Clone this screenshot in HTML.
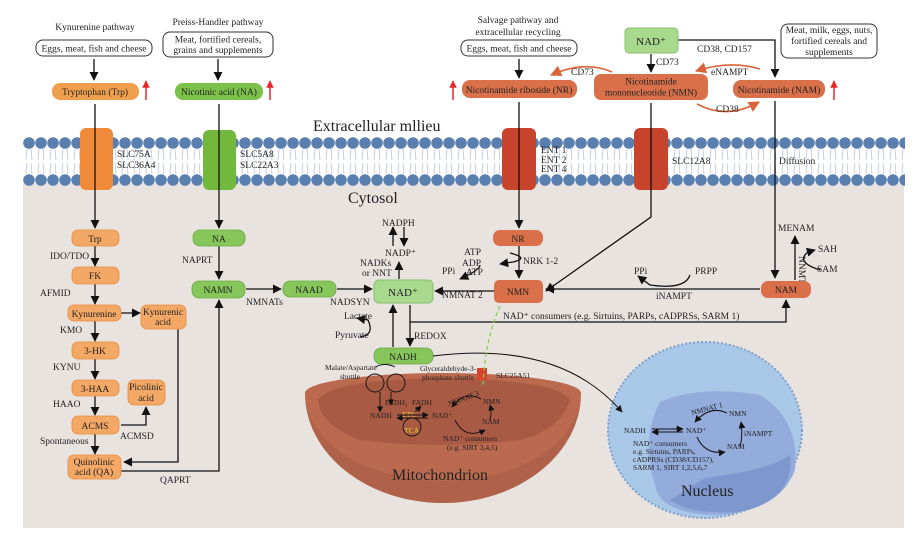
<!DOCTYPE html>
<html><head><meta charset="utf-8"><style>
html,body{margin:0;padding:0;background:#fff}
svg{display:block}
text{font-family:"Liberation Serif",serif;fill:#222}
.s{font-size:9.5px}
.b{font-size:9.5px}
</style></head><body>
<svg width="924" height="537" viewBox="0 0 924 537" xmlns="http://www.w3.org/2000/svg">
<defs>
<marker id="a" viewBox="0 0 10 10" refX="9" refY="5" markerWidth="7" markerHeight="7" orient="auto-start-reverse"><path d="M0,0L10,5L0,10z" fill="#111"/></marker>
<marker id="o" viewBox="0 0 10 10" refX="9" refY="5" markerWidth="7" markerHeight="7" orient="auto"><path d="M0,0L10,5L0,10z" fill="#d9643a"/></marker>
<marker id="r" viewBox="0 0 10 10" refX="9" refY="5" markerWidth="5" markerHeight="6" orient="auto"><path d="M0,0L10,5L0,10z" fill="#e8252a"/></marker>
<pattern id="mem" x="23" y="135" width="12" height="52" patternUnits="userSpaceOnUse">
<path d="M4,14 L3,25 M8,14 L9,25 M4,28 L3,39 M8,28 L9,39" stroke="#b8c4d6" stroke-width="0.8" fill="none"/>
<circle cx="6" cy="8" r="5.8" fill="#5a7fae"/>
<circle cx="6" cy="45" r="5.8" fill="#5a7fae"/>
</pattern>
</defs>
<!-- cytosol -->
<rect x="23" y="183" width="881" height="345" fill="#e9e3e0"/>
<!-- membrane -->
<rect x="23" y="135" width="882" height="52" fill="url(#mem)"/>

<text x="313" y="131" style="font-size:16px">Extracellular mllieu</text>
<text x="348" y="203" style="font-size:16px">Cytosol</text>

<!-- top sources -->
<text class="s" x="95" y="30" text-anchor="middle">Kynurenine pathway</text>
<rect x="36" y="40" width="116" height="16" rx="7" fill="#fff" stroke="#333"/>
<text class="s" x="94" y="51.5" text-anchor="middle">Eggs, meat, fish and cheese</text>
<text class="s" x="218" y="25" text-anchor="middle">Preiss-Handler pathway</text>
<rect x="163" y="32" width="110" height="25" rx="7" fill="#fff" stroke="#333"/>
<text class="s" x="218" y="42.5" text-anchor="middle">Meat, fortified cereals,</text>
<text class="s" x="218" y="53" text-anchor="middle">grains and supplements</text>
<text class="s" x="518" y="23" text-anchor="middle">Salvage pathway and</text>
<text class="s" x="518" y="35" text-anchor="middle">extracellular recycling</text>
<rect x="461" y="40" width="116" height="16" rx="7" fill="#fff" stroke="#333"/>
<text class="s" x="519" y="51.5" text-anchor="middle">Eggs, meat, fish and cheese</text>
<rect x="781" y="24" width="96" height="34" rx="7" fill="#fff" stroke="#333"/>
<text class="s" x="829" y="33" text-anchor="middle">Meat, milk, eggs, nuts,</text>
<text class="s" x="829" y="44" text-anchor="middle">fortified cereals and</text>
<text class="s" x="829" y="55" text-anchor="middle">supplements</text>

<g stroke="#111" stroke-width="1.3" fill="none" marker-end="url(#a)">
<line x1="94" y1="59" x2="94" y2="80"/>
<line x1="218" y1="59" x2="218" y2="80"/>
<line x1="519" y1="59" x2="519" y2="78"/>
<line x1="651" y1="54" x2="651" y2="72"/>
<polyline points="678,40 775,40 775,77"/>
</g>
<text class="s" x="656" y="65">CD73</text>
<text class="s" x="697" y="52">CD38, CD157</text>

<rect x="52" y="83" width="87" height="17" rx="8" fill="#f0a04c"/>
<text class="b" x="95" y="95" text-anchor="middle">Tryptophan (Trp)</text>
<rect x="175" y="83" width="88" height="17" rx="8" fill="#7cc14a"/>
<text class="b" x="219" y="95" text-anchor="middle">Nicotinic acid (NA)</text>
<rect x="625" y="28" width="53" height="25" rx="4" fill="#a9d98d" stroke="#8cc070"/>
<text x="651" y="45" text-anchor="middle" style="font-size:11px">NAD⁺</text>
<rect x="462" y="80" width="115" height="18" rx="8" fill="#d9704a"/>
<text class="b" x="519" y="93" text-anchor="middle">Nicotinamide riboside (NR)</text>
<rect x="594" y="74" width="114" height="26" rx="7" fill="#d9704a"/>
<text class="b" x="651" y="84.5" text-anchor="middle">Nicotinamide</text>
<text class="b" x="651" y="95.5" text-anchor="middle">mononucleotide (NMN)</text>
<rect x="733" y="80" width="92" height="18" rx="8" fill="#d9704a"/>
<text class="b" x="779" y="93" text-anchor="middle">Nicotinamide (NAM)</text>
<g stroke="#e8252a" stroke-width="1.5" marker-end="url(#r)">
<line x1="146" y1="100" x2="146" y2="81"/>
<line x1="270" y1="100" x2="270" y2="81"/>
<line x1="453" y1="100" x2="453" y2="81"/>
<line x1="834" y1="100" x2="834" y2="81"/>
</g>
<g stroke="#d9643a" stroke-width="1.6" fill="none" marker-end="url(#o)">
<path d="M612,72 Q585,60 551,75"/>
<path d="M760,69 Q730,60 696,71"/>
<path d="M697,104 Q727,120 759,102"/>
</g>
<text class="s" x="571" y="75">CD73</text>
<text class="s" x="711" y="75">eNAMPT</text>
<text class="s" x="716" y="112">CD38</text>

<!-- transporters -->
<rect x="80" y="128" width="33" height="62" rx="6" fill="#ef8a3a"/>
<rect x="203" y="130" width="33" height="60" rx="6" fill="#72b83c"/>
<rect x="502" y="128" width="34" height="62" rx="6" fill="#c8432c"/>
<rect x="634" y="128" width="34" height="62" rx="6" fill="#c8432c"/>
<text class="s" x="117" y="157">SLC75A</text><text class="s" x="117" y="168">SLC36A4</text>
<text class="s" x="240" y="157">SLC5A8</text><text class="s" x="240" y="168">SLC22A3</text>
<text class="s" x="541" y="153">ENT 1</text><text class="s" x="541" y="163">ENT 2</text><text class="s" x="541" y="172">ENT 4</text>
<text class="s" x="672" y="164">SLC12A8</text>
<text class="s" x="779" y="164">Diffusion</text>

<!-- main lines -->
<g stroke="#111" stroke-width="1.3" fill="none" marker-end="url(#a)">
<line x1="95" y1="104" x2="95" y2="228"/>
<line x1="219" y1="104" x2="219" y2="228"/>
<line x1="519" y1="102" x2="519" y2="228"/>
<polyline points="651,103 651,217 546,291"/>
<line x1="775" y1="101" x2="775" y2="278"/>
<line x1="95" y1="246" x2="95" y2="266"/>
<line x1="95" y1="284" x2="95" y2="304"/>
<line x1="95" y1="321" x2="95" y2="341"/>
<line x1="95" y1="359" x2="95" y2="379"/>
<line x1="95" y1="396" x2="95" y2="415"/>
<line x1="95" y1="434" x2="95" y2="454"/>
<line x1="121" y1="313" x2="140" y2="313"/>
<polyline points="121,425 146,425 146,407"/>
<polyline points="178,329 178,462 124,462"/>
<polyline points="121,471 219,471 219,300"/>
<line x1="219" y1="246" x2="219" y2="279"/>
<line x1="246" y1="289" x2="281" y2="289"/>
<line x1="337" y1="289" x2="372" y2="289"/>
<line x1="519" y1="246" x2="519" y2="278"/>
<line x1="494" y1="291" x2="435" y2="291"/>
<line x1="760" y1="289" x2="546" y2="289"/>
<line x1="399" y1="279" x2="399" y2="262"/>
<line x1="393" y1="246" x2="393" y2="227"/>
<line x1="404" y1="227" x2="404" y2="246"/>
<line x1="393" y1="347" x2="393" y2="305"/>
<line x1="410" y1="305" x2="410" y2="346"/>
<polyline points="410,322 786,322 786,300"/>
<line x1="795" y1="280" x2="795" y2="236"/>
<path d="M510,253 Q530,258 513,262 L500,264" />
<path d="M480,265 Q480,270 460,279" />
<path d="M690,275 Q685,290 650,285 L638,276"/>
<path d="M360,337 Q375,335 368,320 L357,318"/>
<path d="M820,270 Q795,262 808,252 L815,250"/>
</g>
<text class="s" x="481" y="255" text-anchor="end">ATP</text>
<text class="s" x="481" y="266" text-anchor="end">ADP</text>
<text class="s" x="523" y="264">NRK 1-2</text>
<text class="s" x="442" y="274">PPi</text>
<text class="s" x="466" y="275">ATP</text>
<text class="s" x="442" y="298">NMNAT 2</text>
<text class="s" x="634" y="274">PPi</text>
<text class="s" x="695" y="274">PRPP</text>
<text class="s" x="656" y="299">iNAMPT</text>
<text class="s" x="503" y="319">NAD⁺ consumers (e.g. Sirtuins, PARPs, cADPRSs, SARM 1)</text>
<text class="s" x="778" y="231">MENAM</text>
<text class="s" x="818" y="252">SAH</text>
<text class="s" x="817" y="272">SAM</text>
<text class="s" transform="translate(799,256) rotate(90)">NNMT</text>

<text class="s" x="50" y="259">IDO/TDO</text>
<text class="s" x="40" y="296">AFMID</text>
<text class="s" x="60" y="333">KMO</text>
<text class="s" x="53" y="370">KYNU</text>
<text class="s" x="53" y="407">HAAO</text>
<text class="s" x="120" y="439">ACMSD</text>
<text class="s" x="40" y="444">Spontaneous</text>
<text class="s" x="160" y="483">QAPRT</text>
<text class="s" x="182" y="263">NAPRT</text>
<text class="s" x="246" y="305">NMNATs</text>
<text class="s" x="330" y="305">NADSYN</text>
<text class="s" x="382" y="226">NADPH</text>
<text class="s" x="385" y="256">NADP⁺</text>
<text class="s" x="360" y="266">NADKs</text>
<text class="s" x="362" y="276">or NNT</text>
<text class="s" x="344" y="319">Lactate</text>
<text class="s" x="335" y="338">Pyruvate</text>
<text class="s" x="414" y="339">REDOX</text>

<!-- cytosol nodes -->
<g fill="#f4a865" stroke="#e8883a" stroke-width="0.8">
<rect x="72" y="230" width="47" height="16" rx="6"/>
<rect x="72" y="267" width="47" height="17" rx="6"/>
<rect x="68" y="305" width="53" height="16" rx="6"/>
<rect x="141" y="305" width="45" height="24" rx="6"/>
<rect x="72" y="342" width="47" height="17" rx="6"/>
<rect x="72" y="380" width="47" height="16" rx="6"/>
<rect x="128" y="380" width="37" height="25" rx="6"/>
<rect x="72" y="416" width="47" height="18" rx="6"/>
<rect x="68" y="455" width="53" height="24" rx="6"/>
</g>
<text class="b" x="95" y="242" text-anchor="middle">Trp</text>
<text class="b" x="95" y="279" text-anchor="middle">FK</text>
<text class="b" x="94" y="317" text-anchor="middle">Kynurenine</text>
<text class="b" x="163" y="315" text-anchor="middle">Kynurenic</text>
<text class="b" x="163" y="325" text-anchor="middle">acid</text>
<text class="b" x="95" y="354" text-anchor="middle">3-HK</text>
<text class="b" x="95" y="392" text-anchor="middle">3-HAA</text>
<text class="b" x="146" y="390" text-anchor="middle">Picolinic</text>
<text class="b" x="146" y="401" text-anchor="middle">acid</text>
<text class="b" x="95" y="429" text-anchor="middle">ACMS</text>
<text class="b" x="94" y="465" text-anchor="middle">Quinolinic</text>
<text class="b" x="94" y="475" text-anchor="middle">acid (QA)</text>
<g fill="#86c65a" stroke="#6aaa40" stroke-width="0.8">
<rect x="193" y="230" width="52" height="16" rx="7"/>
<rect x="192" y="281" width="53" height="17" rx="7"/>
<rect x="283" y="281" width="53" height="16" rx="7"/>
<rect x="374" y="348" width="59" height="16" rx="7"/>
</g>
<rect x="374" y="280" width="59" height="23" rx="5" fill="#a9d98d" stroke="#86c06a"/>
<text class="b" x="219" y="242" text-anchor="middle">NA</text>
<text class="b" x="218" y="293" text-anchor="middle">NAMN</text>
<text class="b" x="309" y="293" text-anchor="middle">NAAD</text>
<text class="b" x="403" y="296" text-anchor="middle" style="font-size:11px">NAD⁺</text>
<text class="b" x="403" y="360" text-anchor="middle">NADH</text>
<g fill="#d9704a">
<rect x="493" y="230" width="50" height="16" rx="7"/>
<rect x="494" y="280" width="49" height="23" rx="5"/>
<rect x="761" y="281" width="50" height="17" rx="7"/>
</g>
<text class="b" x="518" y="242" text-anchor="middle">NR</text>
<text class="b" x="518" y="295" text-anchor="middle">NMN</text>
<text class="b" x="786" y="293" text-anchor="middle">NAM</text>

<!-- nucleus -->
<ellipse cx="705" cy="430" rx="97" ry="88" fill="#a9c8e8" stroke="#7f9fcb" stroke-width="2" stroke-dasharray="2 2"/>
<path d="M660,402 Q700,385 760,395 Q800,420 795,470 Q780,510 720,515 Q660,515 655,485 Q640,440 660,402z" fill="#94acdc"/>
<path d="M705,478 Q770,470 790,455 Q795,500 740,512 Q690,515 670,500z" fill="#7f97cf"/>
<text x="681" y="496" style="font-size:16px">Nucleus</text>
<g stroke="#111" stroke-width="1" fill="none" marker-end="url(#a)">
<line x1="652" y1="429" x2="683" y2="429"/>
<line x1="683" y1="432" x2="652" y2="432"/>
<path d="M727,413 Q710,405 695,422"/>
<path d="M740,447 Q743,435 741,422"/>
<path d="M697,437 Q705,455 725,452"/>
<path d="M433,356 Q560,340 622,412"/>
</g>
<text x="624" y="433" style="font-size:7.5px">NADH</text>
<text x="686" y="433" style="font-size:7.5px">NAD⁺</text>
<text x="691" y="413" style="font-size:7.5px" transform="rotate(-15 700 410)">NMNAT 1</text>
<text x="729" y="416" style="font-size:7.5px">NMN</text>
<text x="744" y="436" style="font-size:7.5px">iNAMPT</text>
<text x="727" y="449" style="font-size:7.5px">NAM</text>
<text x="633" y="446" style="font-size:7.5px">NAD⁺ consumers</text>
<text x="633" y="454" style="font-size:7.5px">e.g. Sirtuins, PARPs,</text>
<text x="633" y="462" style="font-size:7.5px">cADPRSs (CD38/CD157),</text>
<text x="633" y="470" style="font-size:7.5px">SARM 1, SIRT 1,2,5,6,7</text>

<!-- mitochondrion -->
<path d="M305,393 A138,20 0 0 1 581,393 A138,110 0 0 1 305,393z" fill="#bb6a50"/>
<path d="M318,400 Q330,380 440,378 Q560,380 570,400 Q560,430 520,440 Q440,450 360,440 Q320,425 318,400z" fill="#a85a44"/>
<path d="M305,393 A138,110 0 0 0 581,393 A138,88 0 0 1 305,393z" fill="#a95c45" opacity="0.6"/>
<text x="392" y="480" style="font-size:16px">Mitochondrion</text>
<rect x="477" y="368" width="10" height="12" fill="#d8452e"/>
<path d="M500,306 Q485,340 483,385" stroke="#7cd04a" stroke-width="1.2" stroke-dasharray="4 3" fill="none"/>
<text x="496" y="378" style="font-size:7.5px">SLC25A51</text>
<text x="325" y="370" style="font-size:7.5px">Malate/Aspartate</text>
<text x="340" y="379" style="font-size:7.5px">shuttle</text>
<text x="420" y="371" style="font-size:7.5px">Glyceraldehyde-3-</text>
<text x="422" y="380" style="font-size:7.5px">phosphate shuttle</text>
<text x="385" y="405" style="font-size:7.5px">FADH₂</text>
<text x="412" y="405" style="font-size:7.5px">FADH</text>
<text x="370" y="418" style="font-size:7.5px">NADH</text>
<text x="432" y="418" style="font-size:7.5px">NAD⁺</text>
<text x="402" y="417" style="font-size:7.5px;fill:#f0d030">ETC</text>
<text x="404" y="433" style="font-size:7.5px;fill:#f0d030">TCA</text>
<text x="447" y="402" style="font-size:7.5px" transform="rotate(-20 460 398)">NMNAT 3</text>
<text x="483" y="404" style="font-size:7.5px">NMN</text>
<text x="482" y="424" style="font-size:7.5px">NAM</text>
<text x="443" y="441" style="font-size:7.5px">NAD⁺ consumers</text>
<text x="447" y="450" style="font-size:7.5px">(e.g. SIRT 3,4,5)</text>
<g stroke="#111" stroke-width="0.9" fill="none">
<circle cx="375" cy="383" r="9"/>
<circle cx="396" cy="383" r="9"/>
<circle cx="412" cy="427" r="9"/>
<path d="M375,367 Q385,362 395,367" />
<g marker-end="url(#a)">
<line x1="380" y1="392" x2="380" y2="412"/>
<line x1="391" y1="392" x2="391" y2="405"/>
<line x1="397" y1="415" x2="428" y2="415"/>
<line x1="428" y1="418" x2="397" y2="418"/>
<line x1="415" y1="412" x2="421" y2="406"/>
<path d="M481,399 Q465,390 452,407"/>
<path d="M490,420 Q492,412 490,405"/>
<path d="M455,420 Q465,440 485,430"/>
</g>
</g>
</svg>
</body></html>
